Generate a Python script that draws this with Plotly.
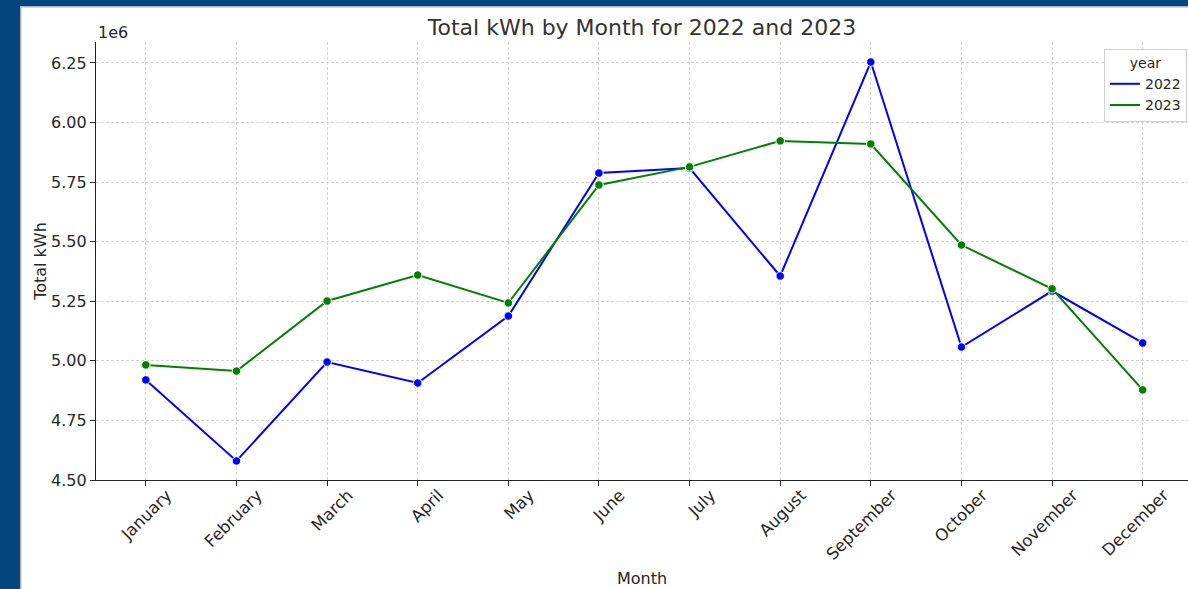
import plotly.graph_objects as go

months = ["January", "February", "March", "April", "May", "June", "July",
          "August", "September", "October", "November", "December"]
kwh_2022 = [4920000, 4580000, 4995000, 4907000, 5188000, 5788000, 5809000,
            5356000, 6254000, 5058000, 5293000, 5075000]
kwh_2023 = [4983000, 4957000, 5251000, 5360000, 5243000, 5738000, 5814000,
            5923000, 5910000, 5486000, 5302000, 4878000]
ytick_vals = [4500000, 4750000, 5000000, 5250000, 5500000, 5750000, 6000000, 6250000]
ytick_text = ["4.50", "4.75", "5.00", "5.25", "5.50", "5.75", "6.00", "6.25"]

series = [("2022", kwh_2022, "#0000ff"), ("2023", kwh_2023, "#008000")]

W, H = 1188, 589
L, R, T, B = 96, 0, 42, 109
pw, ph = W - L - R, H - T - B

fig = go.Figure()
for name, vals, col in series:
    fig.add_trace(go.Scatter(x=months, y=vals, mode="lines", name=name,
                             line=dict(color=col, width=2)))
    fig.add_trace(go.Scatter(x=months, y=vals, mode="markers", name=name,
                             showlegend=False,
                             marker=dict(color=col, size=8.5,
                                         line=dict(color="white", width=1))))

def px_x(p):
    return (p - L) / pw

def px_y(p):
    return (H - B - p) / ph

font_fam = "DejaVu Sans"
fig.update_layout(
    width=W, height=H,
    margin=dict(l=L, r=R, t=T, b=B),
    paper_bgcolor="#03457f",
    plot_bgcolor="white",
    font=dict(family=font_fam, size=16, color="#262626"),
    title=dict(text="Total kWh by Month for 2022 and 2023", x=0.5, xref="paper",
               xanchor="center", y=1 - 27 / H, yanchor="middle",
               font=dict(size=22, color="#333333")),
    xaxis=dict(
        title=dict(text="Month", font=dict(size=16), standoff=9),
        range=[-0.55, 11.5], tickangle=-45, ticklabelshift=21,
        ticklabelstandoff=-7,
        showline=True, linecolor="#222222", linewidth=1.2,
        ticks="outside", ticklen=5, tickcolor="#222222",
        showgrid=True, gridcolor="#d3d3d3", griddash="3px,2px", gridwidth=1,
        zeroline=False, tickfont=dict(size=16.5),
    ),
    yaxis=dict(
        title=dict(text="Total kWh", font=dict(size=16), standoff=0),
        range=[4500000, 6338000], tickvals=ytick_vals, ticktext=ytick_text,
        showline=True, linecolor="#222222", linewidth=1.2,
        ticks="outside", ticklen=5, tickcolor="#222222",
        showgrid=True, gridcolor="#d3d3d3", griddash="3px,2px", gridwidth=1,
        zeroline=False, tickfont=dict(size=16),
    ),
    legend=dict(
        title=dict(text="year", side="top center", font=dict(size=14)),
        x=px_x(1187), xanchor="right", y=px_y(49), yanchor="top",
        bgcolor="white", bordercolor="#d0d0d0", borderwidth=1,
        font=dict(size=14), itemwidth=30, tracegroupgap=0,
    ),
    shapes=[
        dict(type="rect", xref="paper", yref="paper", layer="below",
             x0=px_x(20), x1=1.01, y0=px_y(H + 5), y1=px_y(6),
             fillcolor="#a9b4c0", line=dict(width=0)),
        dict(type="rect", xref="paper", yref="paper", layer="below",
             x0=px_x(21.5), x1=1.01, y0=px_y(H + 5), y1=px_y(7.5),
             fillcolor="white", line=dict(width=0)),
    ],
    annotations=[
        dict(text="1e6", xref="paper", yref="paper", x=0, xanchor="left",
             y=px_y(32), yanchor="middle", showarrow=False,
             font=dict(size=16, color="#262626")),
    ],
)

fig.write_html("out.html", config={"displayModeBar": False},
               post_script="document.body.style.margin='0';"
                           "document.body.style.overflow='hidden';")
